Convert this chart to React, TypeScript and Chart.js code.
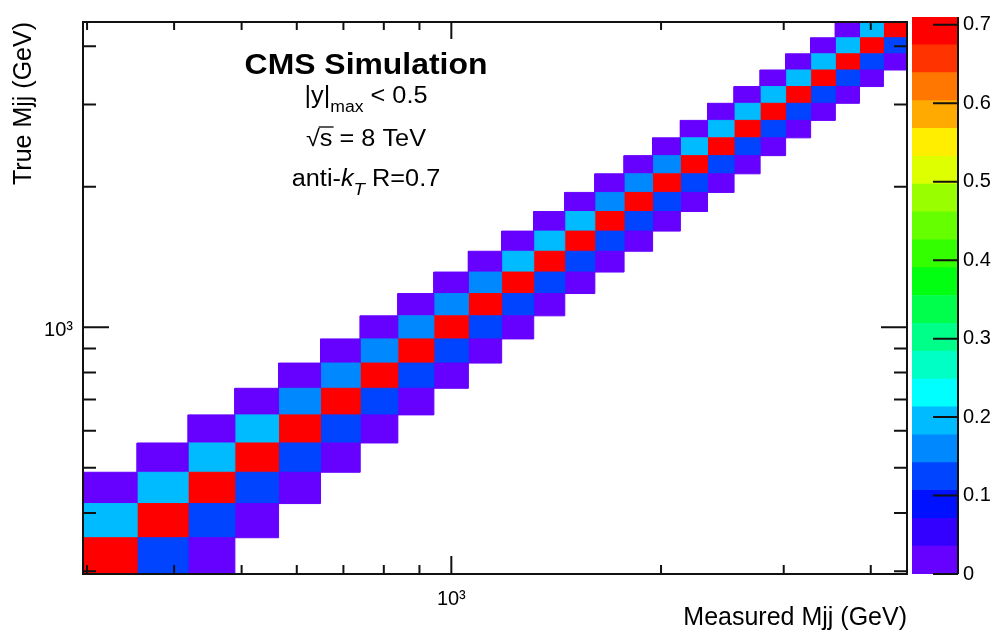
import React, { useEffect, useRef } from "react";
import { Chart, registerables } from "chart.js";

Chart.register(...registerables);

const FONT = "'Liberation Sans', Arial, Helvetica, sans-serif";

// Dijet mass bin edges (GeV), same binning on both axes
const massBinEdges = [296, 354, 419, 489, 565, 649, 740, 838, 944, 1058, 1181, 1313, 1455, 1607, 1770, 1945, 2132, 2332, 2546, 2775, 3019, 3279, 3558, 3854, 4171, 4509];

// Migration fractions of true bin j (row) into measured bin j+shift
const migrationTwoBelow = [null, null, 0.02, 0.02, 0.02, 0.02, 0.02, 0.02, 0.02, 0.02, 0.02, 0.02, 0.02, 0.02, 0.02, 0.02, 0.02, 0.02, 0.02, 0.02, 0.02, 0.02, 0.02, 0.02, 0.02];
const migrationOneBelow = [null, 0.19, 0.19, 0.19, 0.19, 0.16, 0.16, 0.16, 0.16, 0.16, 0.16, 0.19, 0.19, 0.19, 0.16, 0.16, 0.16, 0.19, 0.19, 0.19, 0.19, 0.19, 0.19, 0.19, 0.19];
const migrationDiagonal = [0.69, 0.69, 0.69, 0.69, 0.69, 0.69, 0.69, 0.69, 0.69, 0.69, 0.69, 0.69, 0.69, 0.69, 0.69, 0.69, 0.69, 0.69, 0.69, 0.69, 0.69, 0.69, 0.69, 0.69, 0.69];
const migrationOneAbove = [0.12, 0.12, 0.12, 0.12, 0.12, 0.12, 0.12, 0.12, 0.12, 0.12, 0.12, 0.12, 0.12, 0.12, 0.12, 0.12, 0.12, 0.12, 0.12, 0.12, 0.12, 0.12, 0.12, 0.12, null];
const migrationTwoAbove = [0.02, 0.02, 0.02, 0.02, 0.02, 0.02, 0.02, 0.02, 0.02, 0.02, 0.02, 0.02, 0.02, 0.02, 0.02, 0.02, 0.02, 0.02, 0.02, 0.02, 0.02, 0.02, 0.02, null, null];

// Axis ticks
const massTickValues = [300, 400, 500, 600, 700, 800, 900, 1000, 2000, 3000, 4000];
const massTickLabels = ["", "", "", "", "", "", "", "10\u00B3", "", "", ""];

// Colour scale
const colorScaleMax = 0.71;
const colorScaleTicks = [0, 0.1, 0.2, 0.3, 0.4, 0.5, 0.6, 0.7];
const colorScaleTickLabels = ["0", "0.1", "0.2", "0.3", "0.4", "0.5", "0.6", "0.7"];
const paletteColors = [
  "#6600ff", "#3300ff", "#0011ff", "#0044ff", "#0088ff",
  "#00bbff", "#00ffff", "#00ffc4", "#00ff88", "#00ff4c",
  "#00ff11", "#33ff00", "#66ff00", "#99ff00", "#ddff00",
  "#ffee00", "#ffaa00", "#ff7700", "#ff3300", "#ff0000",
];

function colorFor(v: number) {
  const idx = Math.min(paletteColors.length - 1, Math.floor((v / colorScaleMax) * paletteColors.length));
  return paletteColors[Math.max(0, idx)];
}

function buildCellDatasets() {
  const rows = [
    { shift: -2, values: migrationTwoBelow },
    { shift: -1, values: migrationOneBelow },
    { shift: 0, values: migrationDiagonal },
    { shift: 1, values: migrationOneAbove },
    { shift: 2, values: migrationTwoAbove },
  ];
  const nBins = massBinEdges.length - 1;
  const ds: any[] = [];
  for (let j = 0; j < nBins; j++) {
    for (const r of rows) {
      const v = r.values[j];
      const i = j + r.shift;
      if (v == null || i < 0 || i >= nBins) continue;
      const x0 = massBinEdges[i], x1 = massBinEdges[i + 1];
      const y0 = massBinEdges[j], y1 = massBinEdges[j + 1];
      const c = colorFor(v);
      ds.push({
        data: [
          { x: x0, y: y0 }, { x: x1, y: y0 }, { x: x1, y: y1 }, { x: x0, y: y1 }, { x: x0, y: y0 },
        ],
        backgroundColor: c,
        borderColor: c,
        borderWidth: 1,
        fill: "shape",
        pointRadius: 0,
        tension: 0,
      });
    }
  }
  return ds;
}

const frameTicksPlugin = {
  id: "frameTicks",
  afterDatasetsDraw(chart: any) {
    const { ctx, chartArea: a, scales } = chart;
    const x = scales.x, y = scales.y;
    ctx.save();
    ctx.strokeStyle = "#111";
    ctx.lineWidth = 2;
    ctx.beginPath();
    x.ticks.forEach((t: any) => {
      const px = x.getPixelForValue(t.value);
      const major = massTickLabels[massTickValues.indexOf(t.value)] !== "";
      const lb = major ? 18 : 9;
      const lt = major ? 17 : 8;
      ctx.moveTo(px, a.bottom); ctx.lineTo(px, a.bottom - lb);
      ctx.moveTo(px, a.top); ctx.lineTo(px, a.top + lt);
    });
    y.ticks.forEach((t: any) => {
      const py = y.getPixelForValue(t.value);
      const major = massTickLabels[massTickValues.indexOf(t.value)] !== "";
      const l = major ? 26 : 13;
      ctx.moveTo(a.left, py); ctx.lineTo(a.left + l, py);
      ctx.moveTo(a.right, py); ctx.lineTo(a.right - l, py);
    });
    ctx.stroke();
    ctx.strokeRect(a.left, a.top, a.right - a.left, a.bottom - a.top);
    ctx.restore();
  },
};

type Part = { text: string; font: string; dy?: number; overline?: boolean };

function drawRich(ctx: CanvasRenderingContext2D, cx: number, baseline: number, parts: Part[], sx: number) {
  ctx.save();
  let total = 0;
  const widths: number[] = [];
  for (const p of parts) {
    ctx.font = p.font;
    const w = ctx.measureText(p.text).width;
    widths.push(w);
    total += w;
  }
  ctx.translate(cx, baseline);
  ctx.scale(sx, 1);
  ctx.fillStyle = "#000";
  ctx.strokeStyle = "#000";
  ctx.textBaseline = "alphabetic";
  ctx.textAlign = "left";
  let x = -total / 2;
  parts.forEach((p, k) => {
    ctx.font = p.font;
    ctx.fillText(p.text, x, p.dy || 0);
    if (p.overline) {
      ctx.lineWidth = 1.3;
      ctx.beginPath();
      ctx.moveTo(x - 1, -19);
      ctx.lineTo(x + widths[k] + 1, -19);
      ctx.stroke();
    }
    x += widths[k];
  });
  ctx.restore();
}

const labelPlugin = {
  id: "cmsLabels",
  afterDraw(chart: any) {
    const ctx = chart.ctx as CanvasRenderingContext2D;
    const cx = 366;
    const sx = 1.1;
    drawRich(ctx, cx, 74, [{ text: "CMS Simulation", font: `bold 29px ${FONT}` }], sx);
    drawRich(ctx, cx, 103, [
      { text: "|y|", font: `23px ${FONT}` },
      { text: "max", font: `16px ${FONT}`, dy: 9 },
      { text: " < 0.5", font: `23px ${FONT}` },
    ], sx);
    drawRich(ctx, cx, 146, [
      { text: "\u221A", font: `23px ${FONT}` },
      { text: "s", font: `23px ${FONT}`, overline: true },
      { text: " = 8 TeV", font: `23px ${FONT}` },
    ], sx);
    drawRich(ctx, cx, 186, [
      { text: "anti-", font: `23px ${FONT}` },
      { text: "k", font: `italic 23px ${FONT}` },
      { text: "T", font: `italic 17px ${FONT}`, dy: 9 },
      { text: " R=0.7", font: `23px ${FONT}` },
    ], sx);
  },
};

const paletteAxisPlugin = {
  id: "paletteAxis",
  afterDatasetsDraw(chart: any) {
    const { ctx, chartArea: a, scales } = chart;
    const y = scales.y;
    ctx.save();
    ctx.strokeStyle = "#111";
    ctx.lineWidth = 2;
    ctx.beginPath();
    y.ticks.forEach((t: any) => {
      const py = y.getPixelForValue(t.value);
      ctx.moveTo(a.right, py);
      ctx.lineTo(a.right - 25, py);
    });
    ctx.moveTo(a.right, a.top);
    ctx.lineTo(a.right, a.bottom);
    ctx.stroke();
    ctx.restore();
  },
};

export default function App() {
  const mainRef = useRef<HTMLCanvasElement>(null);
  const barRef = useRef<HTMLCanvasElement>(null);

  useEffect(() => {
    const main = new Chart(mainRef.current as HTMLCanvasElement, {
      type: "line",
      data: { datasets: buildCellDatasets() },
      options: {
        animation: false,
        responsive: true,
        maintainAspectRatio: false,
        events: [],
        layout: { padding: { left: 0, top: 13, right: 91, bottom: 0 } },
        plugins: { legend: { display: false }, tooltip: { enabled: false } },
        scales: {
          x: {
            type: "logarithmic",
            min: massBinEdges[0],
            max: massBinEdges[massBinEdges.length - 1],
            afterBuildTicks: (s: any) => { s.ticks = massTickValues.map((v) => ({ value: v })); },
            afterFit: (s: any) => { s.height = 60; },
            grid: { display: false, drawTicks: false },
            border: { display: false },
            ticks: {
              autoSkip: false, maxRotation: 0, minRotation: 0, padding: 13, color: "#000",
              font: { family: FONT, size: 20 },
              callback: (_v: any, i: number) => massTickLabels[i],
            },
            title: {
              display: true, text: "Measured Mjj (GeV)", align: "end", color: "#000",
              font: { family: FONT, size: 25 }, padding: { top: 0, bottom: 1 },
            },
          },
          y: {
            type: "logarithmic",
            min: massBinEdges[0],
            max: massBinEdges[massBinEdges.length - 1],
            afterBuildTicks: (s: any) => { s.ticks = massTickValues.map((v) => ({ value: v })); },
            afterFit: (s: any) => { s.width = 83; },
            grid: { display: false, drawTicks: false },
            border: { display: false },
            ticks: {
              autoSkip: false, padding: 10, labelOffset: 3, color: "#000",
              font: { family: FONT, size: 20 },
              callback: (_v: any, i: number) => massTickLabels[i],
            },
            title: {
              display: true, text: "True Mjj (GeV)", align: "end", color: "#000",
              font: { family: FONT, size: 25 }, padding: { top: 9, bottom: 0 },
            },
          },
        },
      } as any,
      plugins: [frameTicksPlugin, labelPlugin],
    });

    const bar = new Chart(barRef.current as HTMLCanvasElement, {
      type: "bar",
      data: {
        labels: [""],
        datasets: paletteColors.map((c) => ({
          data: [colorScaleMax / paletteColors.length],
          backgroundColor: c,
          borderWidth: 0,
          barPercentage: 1,
          categoryPercentage: 1,
          stack: "palette",
        })),
      },
      options: {
        animation: false,
        responsive: true,
        maintainAspectRatio: false,
        events: [],
        layout: { padding: { left: 12, top: 13, right: 0, bottom: 60 } },
        plugins: { legend: { display: false }, tooltip: { enabled: false } },
        scales: {
          x: { display: false, stacked: true },
          y: {
            position: "right",
            stacked: true,
            min: 0,
            max: colorScaleMax,
            afterBuildTicks: (s: any) => { s.ticks = colorScaleTicks.map((v) => ({ value: v })); },
            afterFit: (s: any) => { s.width = 40; },
            grid: { display: false, drawTicks: false },
            border: { display: false },
            ticks: {
              padding: 5, color: "#000", font: { family: FONT, size: 20 },
              callback: (_v: any, i: number) => colorScaleTickLabels[i],
            },
          },
        },
      } as any,
      plugins: [paletteAxisPlugin],
    });

    return () => {
      main.destroy();
      bar.destroy();
    };
  }, []);

  return (
    <div style={{ position: "absolute", left: 0, top: 0, width: 998, height: 634, background: "#fff" }}>
      <div style={{ position: "absolute", left: 0, top: 0, width: 998, height: 634 }}>
        <canvas ref={mainRef} />
      </div>
      <div style={{ position: "absolute", left: 900, top: 0, width: 98, height: 634 }}>
        <canvas ref={barRef} />
      </div>
    </div>
  );
}
